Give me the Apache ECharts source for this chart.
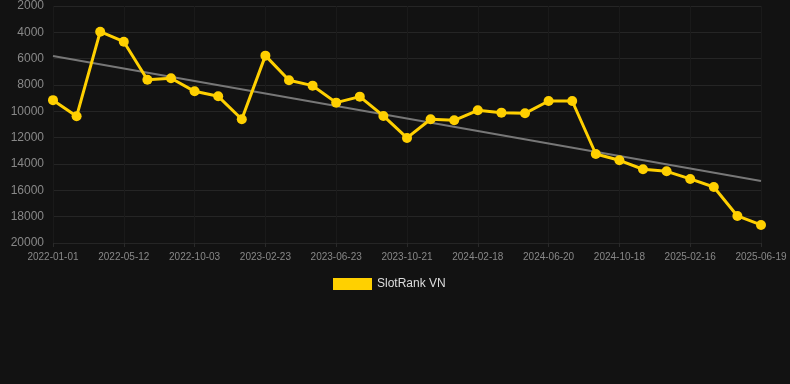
<!DOCTYPE html>
<html><head><meta charset="utf-8">
<script src="https://cdn.jsdelivr.net/npm/echarts@6/dist/echarts.min.js"></script>
<style>html,body{margin:0;padding:0;background:#121212;}#c{width:790px;height:384px;}</style>
</head><body><div id="c"></div>
<script>
const dates = ["2022-01-01","2022-02-14","2022-03-28","2022-05-12","2022-06-25","2022-08-18","2022-10-03","2022-11-19","2023-01-07","2023-02-23","2023-04-03","2023-05-13","2023-06-23","2023-08-02","2023-09-11","2023-10-21","2023-11-30","2024-01-09","2024-02-18","2024-03-30","2024-05-10","2024-06-20","2024-07-30","2024-09-08","2024-10-18","2024-11-27","2025-01-06","2025-02-16","2025-03-28","2025-05-08","2025-06-19"];
const ranks = [9150,10380,3950,4710,7595,7490,8480,8860,10605,5770,7640,8050,9340,8885,10350,12020,10605,10680,9920,10100,10150,9215,9215,13240,13720,14400,14555,15135,15745,17945,18630];
const trendEnds = [5800,15290];
const yTicks = [2000,20000,2000];

const chart = echarts.init(document.getElementById('c'));
chart.setOption({
  backgroundColor:'#121212',
  animation:false,
  grid:{left:53,right:29,top:6,bottom:141},
  legend:{bottom:94,left:333,itemWidth:39,itemHeight:12,itemGap:10,padding:0,
    data:[{name:'SlotRank VN',icon:'rect'}],
    textStyle:{color:'#ddd',fontSize:12,fontFamily:'Arial, Liberation Sans, sans-serif'}},
  xAxis:{type:'category',data:dates,boundaryGap:false,
    axisLine:{show:false},
    axisTick:{show:true,alignWithLabel:true,interval:2,length:4,lineStyle:{color:'#2a2a2a'}},
    axisLabel:{interval:2,color:'#888',fontSize:10,margin:9,fontFamily:'Arial, Liberation Sans, sans-serif'},
    splitLine:{show:true,interval:2,lineStyle:{color:'#1a1a1a'}}},
  yAxis:{type:'value',inverse:true,min:yTicks[0],max:yTicks[1],interval:yTicks[2],
    axisLine:{show:false},axisTick:{show:false},
    axisLabel:{color:'#888',fontSize:12,margin:9,formatter:v=>String(v),fontFamily:'Arial, Liberation Sans, sans-serif'},
    splitLine:{lineStyle:{color:'#252525'}}},
  series:[
    {name:'SlotRank VN',type:'line',data:ranks,symbol:'circle',symbolSize:10,
     itemStyle:{color:'#FFD000'},lineStyle:{color:'#FFD000',width:3},z:3},
    {name:'trend',type:'line',data:ranks.map((v,i)=> i===0?trendEnds[0]:(i===ranks.length-1?trendEnds[1]:null)),
     connectNulls:true,symbol:'none',lineStyle:{color:'#777',width:2},itemStyle:{color:'#777'},z:2}
  ]
});
</script></body></html>
